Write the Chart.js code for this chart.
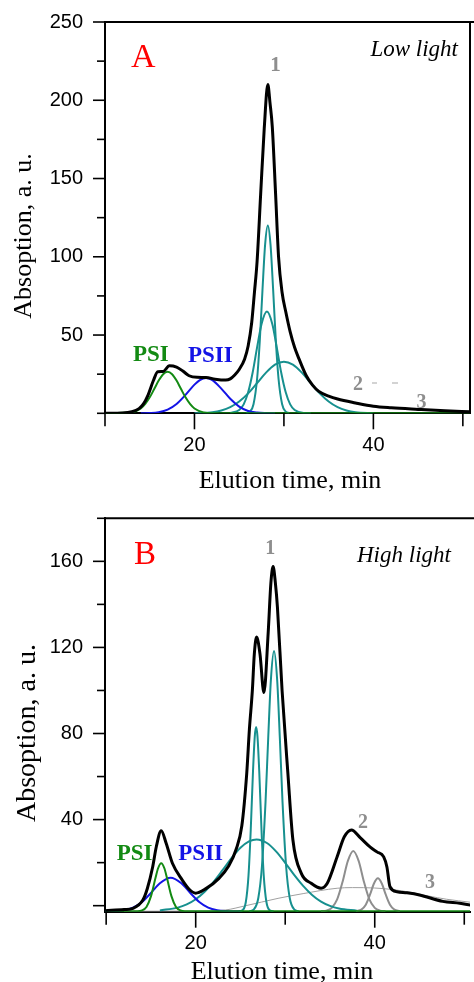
<!DOCTYPE html>
<html><head><meta charset="utf-8">
<script src="https://cdn.jsdelivr.net/npm/chart.js@4.4.1/dist/chart.umd.min.js"></script>
<style>
html,body{margin:0;padding:0;background:#fff;width:474px;height:982px;overflow:hidden}
canvas{position:absolute;left:0}
#ca{top:0}
#cb{top:495px}
</style></head><body>
<canvas id="ca" width="474" height="495"></canvas>
<canvas id="cb" width="474" height="487"></canvas>
<script>
// ---------- Panel A (Low light) ----------
const aTotalX = [10,12,13,13.8,14.3,14.8,15.4,15.9,16.5,17.2,18,18.7,19.4,20.3,21.3,22.3,23.5,24,24.5,25,25.6,26,26.4,26.7,27,27.4,27.8,28.2,28.45,28.7,29.07,29.4,29.8,30.2,30.7,31.2,31.7,32.5,33.2,33.9,35,36,38,40,42,45,48,50.8];
const aTotalY = [0,0.2,1,3,6,11.5,20.8,26.5,26.7,30.3,29.5,27,24,23,22.9,21.8,21.2,22,24.5,28,34.6,43,58,77,97,140,182,210,198,183,140,100,77,65,52,42,34.6,24,18,14,11,9.1,6.6,4.5,3.5,2.5,1.6,1];
const aPsiX = [10,13,14,14.5,15,15.5,16,16.5,17,17.5,18,18.5,19,19.5,20,21,22,50.8];
const aPsiY = [0,0.6,3.1,6.0,10.2,15.5,20.9,25.0,26.5,25.0,20.9,15.5,10.2,6.0,3.1,0.6,0.1,0];
const aPsiiX = [14,15,16,17,18,19,20,20.6,21.3,22,23,24,25,26,27,28,29];
const aPsiiY = [0,0.18,0.74,2.4,6.0,11.8,18.3,21.2,22.5,21.2,15.8,9.3,4.3,1.5,0.44,0.1,0];
const aPeak1aX = [25.8,26.2,26.6,27,27.3,27.6,27.9,28.2,28.5,28.8,29.1,29.4,29.8,30.2,30.6];
const aPeak1aY = [0.1,1.1,5.8,21.9,46,78.4,107.9,120,107.9,78.4,46,21.9,5.8,1.1,0.1];
const aPeak1bX = [24,25,25.5,26,26.5,27,27.5,28.1,28.7,29.2,29.7,30.2,30.7,31.2,32.2,33];
const aPeak1bY = [0.15,2.1,5.7,13.4,25.9,42.1,57.1,65,57.1,42.1,25.9,13.4,5.7,2.1,0.15,0];
const aPeak1cX = [20,22,23,24,25,26,27,28,29,30,31,32,33,34,35,36,37,38,40];
const aPeak1cY = [0.1,0.74,1.8,3.9,7.5,12.7,19.3,26.0,31.1,33,31.1,26.0,19.3,12.7,7.5,3.9,1.8,0.74,0.1];
const aYTickLabels = [50,100,150,200,250];
const aXTickLabels = [20,40];

// ---------- Panel B (High light) ----------
const bTotalX = [9.9,12,13,14.1,14.6,15.2,15.6,16.15,16.7,17.4,18.5,19.3,20,21.1,22.6,23.7,24.5,25.15,25.7,26,26.33,26.55,26.8,27.18,27.62,28.1,28.4,28.65,28.9,29.13,29.65,30.3,30.86,31.8,32.9,34,34.7,35.8,36.6,37.4,38.4,39.5,40.25,41.0,41.36,41.7,42.5,43.6,45,47.6,49.5,50.7];
const bTotalY = [-2.3,-1.8,-1.2,2.6,8,18.1,27.4,34.8,29,19.7,11.9,7.5,5.8,7.8,12.7,18.5,26,37,61.4,82,100,117,124.8,117,99,127,150,157.6,150,138.7,100,61.4,30.5,15,10.4,8.1,10.4,22.7,32,35.2,31.5,27.2,25,22.7,18,8.8,6.5,6,5,2,1.1,0.3];
const bPsiX = [9.9,13.5,14,14.5,15,15.5,15.8,16.15,16.5,16.8,17.3,17.8,18.3,18.8,50.7];
const bPsiY = [-2.6,-2.55,-2.2,-0.6,4.3,12.7,17.4,19.7,17.4,12.7,4.3,-0.6,-2.2,-2.55,-2.6];
const bPsiiX = [9.9,11,12,13,14,15,16,17.2,18.4,19.4,20.4,21.4,22.4,23.4,25];
const bPsiiY = [-2.6,-2.47,-2.07,-0.88,1.74,5.9,10.4,13.0,10.4,5.9,1.74,-0.88,-2.07,-2.47,-2.6];
const bPeak1aX = [24.8,25.2,25.6,25.9,26.15,26.4,26.6,26.75,26.9,27.1,27.35,27.6,27.9,28.3,28.7];
const bPeak1aY = [-2.6,-2.2,1.7,14.1,35.3,62.3,78.7,83,78.7,62.3,35.3,14.1,1.7,-2.2,-2.6];
const bPeak1bX = [26,26.5,27,27.4,27.8,28.1,28.4,28.75,29.1,29.4,29.7,30.1,30.5,31,31.5];
const bPeak1bY = [-2.6,-1.7,3.7,18.3,48.1,77.8,104.9,118.3,104.9,77.8,48.1,18.3,3.7,-1.7,-2.6];
const bPeak1cX = [16,18,19,20,21,22,23,24,25,26,26.8,28,29,30,31,32,33,34,35,36,38];
const bPeak1cY = [-2.2,-0.9,0.6,3.0,6.5,11.1,16.5,22.1,26.9,30.0,30.8,29.0,25.1,19.9,14.3,9.2,5.0,1.9,-0.1,-1.3,-2.3];
const bPeak2aX = [34,34.6,35.2,35.8,36.4,37,37.6,38.2,38.8,39.4,40,40.6,41.2];
const bPeak2aY = [-2.56,-2.3,-1.0,2.9,11.0,20.8,25.4,20.8,11.0,2.9,-1.0,-2.3,-2.56];
const bPeak2bX = [37.9,38.5,39,39.5,39.9,40.35,40.8,41.2,41.7,42.2,42.8];
const bPeak2bY = [-2.53,-1.87,0.43,5.45,10.2,12.7,10.2,5.45,0.43,-1.87,-2.53];
const bBroadX = [12,20,23.3,25.5,29.2,32,35.8,37.5,40,42,44,46,48,50.7];
const bBroadY = [-2.6,-2.5,-2,-0.1,3.4,5.6,8.1,8.4,8.2,7.5,6.2,4.5,3,1.6];
const bYTickLabels = [0,40,80,120,160];
const bXTickLabels = [20,40];

// ---------- styling ----------
const C_BLACK = '#000000', C_GREEN = '#138a13', C_BLUE = '#1414e6', C_TEAL = '#17908f', C_GRAY = '#8e8e8e';
const SERIF = '"Liberation Serif", "Times New Roman", serif';
const SANS = '"Liberation Sans", Arial, sans-serif';

function pts(xs, ys){ return xs.map((x,i)=>({x:x, y:ys[i]})); }
function ds(label, xs, ys, color, width){
  return {label, data: pts(xs,ys), borderColor: color, borderWidth: width, pointRadius: 0,
          fill: false, cubicInterpolationMode: 'monotone', tension: 0.4};
}
function hasVal(list, v){ return list.some(L => Math.abs(L - v) < 1e-6); }

const textsA = [
  {t:'A', x:131, y:67, f:'34px '+SERIF, c:'#ff0000', a:'left'},
  {t:'Low light', x:458, y:56, f:'italic 23px '+SERIF, c:'#000', a:'right'},
  {t:'1', x:275.5, y:70.5, f:'bold 21px '+SERIF, c:C_GRAY, a:'center'},
  {t:'PSI', x:133, y:360.5, f:'bold 23px '+SERIF, c:C_GREEN, a:'left'},
  {t:'PSII', x:188, y:362, f:'bold 23px '+SERIF, c:C_BLUE, a:'left'},
  {t:'2', x:353, y:390, f:'bold 20px '+SERIF, c:C_GRAY, a:'left'},
  {t:'3', x:416.5, y:408, f:'bold 20px '+SERIF, c:C_GRAY, a:'left'},
  {t:'Elution time, min', x:290, y:488, f:'26px '+SERIF, c:'#000', a:'center'},
  {t:'Absoption, a. u.', x:30.5, y:236, f:'26px '+SERIF, c:'#000', a:'center', rot:true}
];
const textsB = [
  {t:'B', x:134, y:69, f:'33px '+SERIF, c:'#ff0000', a:'left'},
  {t:'High light', x:357, y:66.7, f:'italic 23px '+SERIF, c:'#000', a:'left'},
  {t:'1', x:270.3, y:59, f:'bold 20px '+SERIF, c:C_GRAY, a:'center'},
  {t:'PSI', x:116.7, y:365, f:'bold 23px '+SERIF, c:C_GREEN, a:'left'},
  {t:'PSII', x:178.3, y:365, f:'bold 23px '+SERIF, c:C_BLUE, a:'left'},
  {t:'2', x:358, y:333, f:'bold 20px '+SERIF, c:C_GRAY, a:'left'},
  {t:'3', x:425, y:393, f:'bold 20px '+SERIF, c:C_GRAY, a:'left'},
  {t:'Elution time, min', x:282, y:484, f:'26px '+SERIF, c:'#000', a:'center'},
  {t:'Absoption, a. u.', x:35, y:238, f:'28px '+SERIF, c:'#000', a:'center', rot:true}
];

function framePlugin(opt){
  return {
    id: 'frame',
    afterDatasetsDraw(chart){
      const ctx = chart.ctx, ca = chart.chartArea;
      const xs = chart.scales.x, ys = chart.scales.y;
      ctx.save();
      ctx.strokeStyle = '#000'; ctx.lineWidth = 2; ctx.lineCap = 'butt';
      // top border
      ctx.beginPath(); ctx.moveTo(ca.left, ca.top); ctx.lineTo(474, ca.top); ctx.stroke();
      if (opt.rightBorder){ ctx.beginPath(); ctx.moveTo(ca.right, ca.top); ctx.lineTo(ca.right, ca.bottom); ctx.stroke(); }
      // y ticks
      ctx.lineWidth = 1.6;
      for (let v = Math.ceil(ys.min/opt.yStep)*opt.yStep; v <= ys.max + 1e-9; v += opt.yStep){
        const py = ys.getPixelForValue(v);
        const len = hasVal(opt.yLabels, v) ? 12 : 8;
        ctx.beginPath(); ctx.moveTo(ca.left - len, py); ctx.lineTo(ca.left, py); ctx.stroke();
      }
      for (let v = Math.ceil(xs.min/10)*10; v <= xs.max + 1e-9; v += 10){
        const px = xs.getPixelForValue(v);
        const len = hasVal(opt.xLabels, v) ? 16 : 13;
        ctx.beginPath(); ctx.moveTo(px, ca.bottom); ctx.lineTo(px, ca.bottom + len); ctx.stroke();
      }
      // extra light dashes
      if (opt.dashes){
        ctx.strokeStyle = '#c4c4c4'; ctx.lineWidth = 1.5;
        opt.dashes.forEach(d => { ctx.beginPath(); ctx.moveTo(d[0], d[2]); ctx.lineTo(d[1], d[2]); ctx.stroke(); });
      }
      // texts
      opt.texts.forEach(o => {
        ctx.font = o.f; ctx.fillStyle = o.c; ctx.textAlign = o.a; ctx.textBaseline = 'alphabetic';
        if (o.rot){
          ctx.save(); ctx.translate(o.x, o.y); ctx.rotate(-Math.PI/2); ctx.fillText(o.t, 0, 0); ctx.restore();
        } else ctx.fillText(o.t, o.x, o.y);
      });
      ctx.restore();
    }
  };
}

function makeChart(id, o){
  return new Chart(document.getElementById(id), {
    type: 'line',
    data: { datasets: o.datasets },
    options: {
      responsive: false, animation: false, devicePixelRatio: 1,
      layout: { padding: { left: 0, top: o.padTop, right: o.padRight, bottom: 0 } },
      plugins: { legend: { display: false }, tooltip: { enabled: false } },
      scales: {
        x: { type: 'linear', min: o.xMin, max: o.xMax,
             ticks: { stepSize: 10, autoSkip: false, maxRotation: 0, padding: 4,
                      callback: v => hasVal(o.xLabels, v) ? String(Math.round(v)) : '',
                      font: { family: SANS, size: 20 }, color: '#000' },
             grid: { display: true, drawOnChartArea: false, drawTicks: true, tickLength: 16, color: 'rgba(0,0,0,0)' },
             border: { display: true, color: '#000', width: 2 },
             afterFit: s => { s.height = o.xAxisH; } },
        y: { type: 'linear', min: o.yMin, max: o.yMax,
             ticks: { stepSize: o.yStep, autoSkip: false, padding: 10,
                      callback: v => hasVal(o.yLabels, v) ? String(Math.round(v)) : '',
                      font: { family: SANS, size: 20 }, color: '#000' },
             grid: { display: true, drawOnChartArea: false, drawTicks: true, tickLength: 12, color: 'rgba(0,0,0,0)' },
             border: { display: true, color: '#000', width: 2 },
             afterFit: s => { s.width = 105; } }
      }
    },
    plugins: [framePlugin(o)]
  });
}

makeChart('ca', {
  datasets: [
    ds('Total', aTotalX, aTotalY, C_BLACK, 3),
    ds('PSI', aPsiX, aPsiY, C_GREEN, 2),
    ds('PSII', aPsiiX, aPsiiY, C_BLUE, 2),
    ds('Peak 1a', aPeak1aX, aPeak1aY, C_TEAL, 2),
    ds('Peak 1b', aPeak1bX, aPeak1bY, C_TEAL, 2),
    ds('Peak 1c', aPeak1cX, aPeak1cY, C_TEAL, 2)
  ],
  xMin: 10, xMax: 50.8, yMin: 0, yMax: 250, yStep: 25,
  yLabels: aYTickLabels, xLabels: aXTickLabels,
  padTop: 21, padRight: 1.7, xAxisH: 81.7, rightBorder: true,
  texts: textsA, dashes: [[372,377,383],[392,398,383]]
});

makeChart('cb', {
  datasets: [
    ds('Total', bTotalX, bTotalY, C_BLACK, 3),
    ds('PSI', bPsiX, bPsiY, C_GREEN, 2),
    ds('PSII', bPsiiX, bPsiiY, C_BLUE, 2),
    ds('Peak 1a', bPeak1aX, bPeak1aY, C_TEAL, 2),
    ds('Peak 1b', bPeak1bX, bPeak1bY, C_TEAL, 2),
    ds('Peak 1c', bPeak1cX, bPeak1cY, C_TEAL, 2),
    ds('Peak 2a', bPeak2aX, bPeak2aY, C_GRAY, 2),
    ds('Peak 2b', bPeak2bX, bPeak2bY, C_GRAY, 2),
    ds('Broad', bBroadX, bBroadY, '#a0a0a0', 1)
  ],
  xMin: 9.87, xMax: 50.64, yMin: -2.8, yMax: 180, yStep: 20,
  yLabels: bYTickLabels, xLabels: bXTickLabels,
  padTop: 23.3, padRight: 0, xAxisH: 70.3, rightBorder: false,
  texts: textsB
});
</script>
</body></html>
